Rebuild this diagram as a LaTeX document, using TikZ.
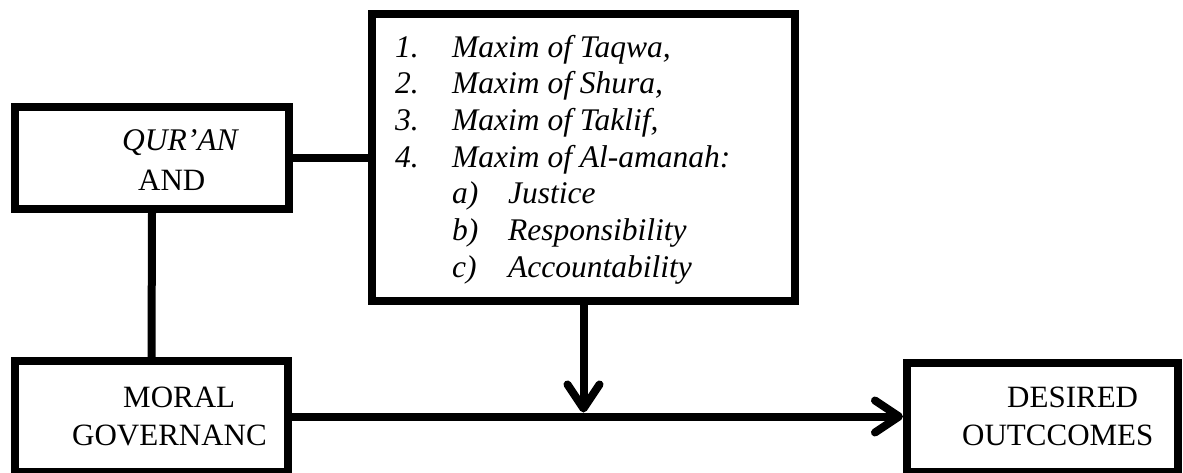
\documentclass[tikz,border=0pt]{standalone}
\usepackage{fontspec}
\setmainfont{Liberation Serif}
\usetikzlibrary{arrows.meta}

\begin{document}
\begin{tikzpicture}[x=1pt,y=-1pt,
  box/.style={draw, line width=8pt, inner sep=0pt, outer sep=4pt},
  link/.style={line width=8pt},
  arr/.style={-{Straight Barb[length=24pt,width=32pt,round]}},
  txt/.style={anchor=base west, inner sep=0pt, font=\fontsize{31}{37}\selectfont},
  itxt/.style={txt, font=\itshape\fontsize{31.5}{37}\selectfont}]

\useasboundingbox (0,0) rectangle (1183,472);

% boxes
\node[box, minimum width=274pt, minimum height=102pt] (quran) at (152,158) {};
\node[box, minimum width=423pt, minimum height=287pt] (maxims) at (583.5,157.5) {};
\node[box, minimum width=273pt, minimum height=111pt] (moral) at (151.5,416.5) {};
\node[box, minimum width=271pt, minimum height=109pt] (desired) at (1042.5,417.5) {};

% box texts
\node[itxt] (qtop) at (122,150) {QUR’AN};
\node[txt] (qand) at (138,190) {AND};
\node[txt] (mtop) at (123,407) {MORAL};
\node[txt] (mbot) at (72,445) {GOVERNANC};
\node[txt] (dtop) at (1007,407) {DESIRED};
\node[txt] (dbot) at (962,445) {OUTCCOMES};

% maxims list
\foreach \n/\t [count=\i] in {{1.}/{Maxim of Taqwa,}, {2.}/{Maxim of Shura,},
    {3.}/{Maxim of Taklif,}, {4.}/{Maxim of Al-amanah:}} {
  \node[itxt] (num\i) at (395, 20.3+36.7*\i) {\n};
  \node[itxt] (item\i) at (452, 20.3+36.7*\i) {\t};
}
\foreach \n/\t [count=\i from 5] in {a)/Justice, b)/Responsibility, c)/Accountability} {
  \node[itxt] (sub\i) at (452, 20.3+36.7*\i) {\n};
  \node[itxt] (subitem\i) at (508, 20.3+36.7*\i) {\t};
}

% connectors
\draw[link] (quran.east) -- (quran.east -| maxims.west);
\draw[link] (quran.south) -- (moral.north);
\draw[link, arr] (moral.east) -- (moral.east -| desired.west);
\draw[link, arr, shorten >=4pt] (maxims.south) -- (maxims.south |- moral.east);
\end{tikzpicture}
\end{document}
